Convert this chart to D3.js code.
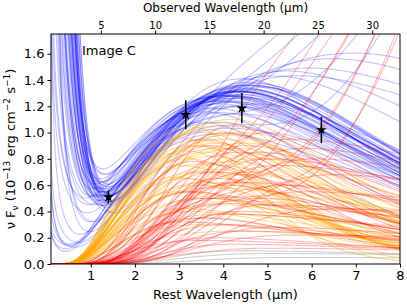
<!DOCTYPE html>
<html>
<head>
<meta charset="utf-8">
<script src="https://cdn.jsdelivr.net/npm/d3@7"></script>
<style>
  body { margin: 0; background: #fff; }
  svg { font-family: "DejaVu Sans", sans-serif; }
</style>
</head>
<body>
<div class="wrapper"></div>
<script>
// tick values
const restTicks = [1, 2, 3, 4, 5, 6, 7, 8];
const obsTicks = [5, 10, 15, 20, 25, 30];
const yTicks = [0, 0.2, 0.4, 0.6, 0.8, 1.0, 1.2, 1.4, 1.6];
const redshift = 3.07;

// measured photometry
const pointLam = [1.40, 3.15, 4.42, 6.22];
const pointFlux = [0.51, 1.135, 1.186, 1.02];
const pointErr = [0.05, 0.11, 0.115, 0.10];

// model fits, blue: [S, a, D, ld, sl, sr, R, lr, s]
const blueModels = [
  [0.75, 3.0, 1.30, 4.5, 0.65, 0.55], [0.68, 2.9, 1.22, 4.2, 0.68, 0.58],
  [0.80, 2.8, 1.35, 4.7, 0.64, 0.54], [0.70, 2.8, 1.28, 4.4, 0.70, 0.56],
  [0.62, 2.7, 1.25, 4.3, 0.66, 0.57], [0.72, 2.6, 1.32, 4.6, 0.63, 0.53],
  [0.65, 2.6, 1.20, 4.0, 0.72, 0.60], [0.58, 2.5, 1.30, 4.5, 0.65, 0.55],
  [0.66, 2.5, 1.36, 4.8, 0.62, 0.52], [0.60, 2.4, 1.24, 4.2, 0.68, 0.58],
  [0.55, 2.4, 1.18, 4.4, 0.70, 0.62], [0.62, 2.3, 1.30, 4.6, 0.64, 0.56],
  [0.58, 2.2, 1.26, 4.3, 0.66, 0.55], [0.52, 2.2, 1.33, 4.9, 0.63, 0.52],
  [0.56, 2.1, 1.21, 4.1, 0.69, 0.59], [0.55, 2.0, 1.28, 4.5, 0.66, 0.56],
  [0.50, 2.0, 1.15, 3.9, 0.72, 0.62], [0.60, 1.9, 1.35, 4.7, 0.62, 0.54],
  [0.50, 1.8, 1.24, 4.4, 0.67, 0.57], [0.46, 1.8, 1.30, 4.6, 0.65, 0.55],
  [0.52, 1.7, 1.20, 4.2, 0.70, 0.60], [0.47, 1.6, 1.27, 4.5, 0.66, 0.56],
  [0.43, 1.6, 1.32, 4.8, 0.64, 0.53], [0.48, 1.5, 1.22, 4.3, 0.68, 0.58],
  [0.44, 1.4, 1.26, 4.4, 0.66, 0.57], [0.40, 1.4, 1.18, 4.0, 0.71, 0.61],
  [0.42, 1.3, 1.30, 4.6, 0.65, 0.55], [0.42, 1.2, 1.24, 4.5, 0.67, 0.56],
  [0.38, 1.1, 1.20, 4.2, 0.69, 0.59], [0.38, 1.0, 1.28, 4.7, 0.65, 0.54],
  [0.34, 0.9, 1.22, 4.4, 0.68, 0.58], [0.36, 0.8, 1.16, 4.1, 0.70, 0.62],
  [0.30, 0.8, 1.25, 4.5, 0.66, 0.56], [0.25, 1.5, 1.30, 4.6, 0.64, 0.55],
  [0.20, 1.8, 1.22, 4.3, 0.68, 0.58], [0.15, 2.0, 1.28, 4.5, 0.66, 0.57],
  [0.12, 1.2, 1.18, 4.2, 0.70, 0.60], [0.10, 0.9, 1.24, 4.6, 0.68, 0.58],
  [0.08, 0.7, 1.12, 4.0, 0.74, 0.64], [0.06, 0.6, 1.05, 3.9, 0.76, 0.66],
  [0.07, 0.9, 1.20, 4.8, 0.72, 0.62], [0.05, 1.1, 0.98, 4.0, 0.78, 0.68],
  [0.09, 0.5, 1.10, 4.4, 0.75, 0.63], [0.04, 0.8, 1.02, 4.2, 0.80, 0.70],
  [0.65, 2.5, 1.42, 5.2, 0.66, 0.58], [0.55, 2.0, 1.45, 5.5, 0.68, 0.60],
  [0.45, 1.6, 1.10, 3.7, 0.68, 0.58], [0.60, 2.4, 1.05, 3.6, 0.70, 0.55],
  [0.50, 1.9, 1.38, 4.5, 0.60, 0.50], [0.58, 2.3, 1.26, 4.2, 0.78, 0.66],
  [0.63, 2.5, 1.60, 7.0, 0.72, 0.60], [0.50, 2.0, 1.55, 6.5, 0.70, 0.65],
  [0.55, 2.2, 1.48, 6.0, 0.72, 0.70], [0.45, 1.5, 1.40, 5.8, 0.70, 0.72],
  [0.62, 2.5, 1.10, 4.2, 0.64, 0.55, 2.5, 11, 0.40],
  [0.55, 2.0, 1.05, 4.0, 0.66, 0.55, 3.0, 12, 0.38],
  [0.60, 2.4, 1.15, 4.4, 0.62, 0.55, 1.8, 10, 0.45],
  [0.50, 1.8, 1.00, 4.1, 0.68, 0.55, 4.0, 13, 0.35],
  [0.45, 1.5, 1.08, 4.3, 0.66, 0.56, 2.2, 10.5, 0.42]
];

// orange: [D, ld, sl, sr]
const orangeModels = [
  [1.05, 3.8, 0.65, 0.50], [1.00, 3.5, 0.62, 0.55], [0.95, 4.0, 0.68, 0.45],
  [0.90, 3.3, 0.60, 0.60], [1.10, 4.2, 0.66, 0.50], [0.85, 3.6, 0.64, 0.40],
  [0.80, 3.2, 0.58, 0.55], [1.00, 4.5, 0.70, 0.48], [0.75, 3.0, 0.60, 0.65],
  [0.92, 3.9, 0.66, 0.35], [0.70, 3.4, 0.62, 0.50], [0.88, 4.4, 0.72, 0.42],
  [0.65, 3.1, 0.58, 0.60], [1.02, 3.7, 0.63, 0.58], [0.60, 3.5, 0.65, 0.45],
  [0.98, 4.1, 0.69, 0.52], [0.82, 3.8, 0.60, 0.38], [0.55, 3.0, 0.62, 0.70],
  [0.94, 3.4, 0.64, 0.62], [0.78, 4.3, 0.70, 0.45], [0.50, 3.6, 0.66, 0.55],
  [0.86, 3.2, 0.60, 0.47], [0.45, 4.0, 0.68, 0.60], [0.72, 3.9, 0.62, 0.40],
  [1.08, 4.0, 0.64, 0.44], [0.40, 3.3, 0.60, 0.65], [0.68, 4.6, 0.74, 0.50],
  [0.35, 3.7, 0.64, 0.52], [0.90, 3.6, 0.66, 0.30], [0.62, 4.2, 0.70, 0.36],
  [0.30, 3.5, 0.62, 0.75], [0.52, 3.9, 0.66, 0.33], [0.25, 4.2, 0.68, 0.80],
  [0.96, 3.0, 0.58, 0.50], [0.84, 2.8, 0.56, 0.55], [0.76, 3.5, 0.60, 0.85],
  [0.58, 3.8, 0.64, 0.90], [0.66, 2.9, 0.57, 0.70], [1.04, 3.3, 0.61, 0.42],
  [0.48, 4.4, 0.70, 0.75], [0.80, 4.8, 0.74, 0.55], [0.42, 3.1, 0.60, 0.80],
  [0.70, 3.7, 0.66, 0.62], [0.92, 4.6, 0.72, 0.40], [0.38, 4.0, 0.66, 0.95],
  [0.55, 3.4, 0.62, 0.42], [0.88, 3.9, 0.68, 0.55], [0.62, 3.6, 0.64, 0.70]
];

// red: [D, ld, sl, sr, R, lr, s]
const redModels = [
  [1.00, 4.0, 0.45, 0.55], [0.90, 4.5, 0.42, 0.60], [0.80, 5.0, 0.45, 0.70],
  [1.05, 4.2, 0.40, 0.50], [0.70, 3.8, 0.48, 0.65], [0.95, 5.5, 0.44, 0.75],
  [0.60, 4.0, 0.42, 0.60], [0.85, 4.8, 0.40, 0.55], [0.50, 3.6, 0.46, 0.70],
  [0.75, 5.2, 0.43, 0.80], [0.40, 4.4, 0.45, 0.65], [0.65, 3.9, 0.40, 0.50],
  [0.30, 4.0, 0.48, 0.70], [0.55, 5.8, 0.42, 0.80], [0.90, 3.7, 0.44, 0.45],
  [0.45, 5.0, 0.40, 0.90], [0.35, 3.5, 0.50, 0.60], [0.70, 4.6, 0.46, 0.40],
  [0.25, 4.5, 0.44, 0.80], [0.80, 6.0, 0.40, 0.70], [0.20, 3.8, 0.46, 0.75],
  [0.60, 5.5, 0.45, 0.50], [0.15, 4.2, 0.42, 0.90], [1.00, 5.0, 0.38, 0.45],
  [0.50, 4.8, 0.50, 0.60], [0.42, 6.5, 0.45, 0.80], [0.28, 5.2, 0.42, 0.70],
  [0.85, 4.3, 0.47, 0.62], [0.12, 5.0, 0.45, 1.00], [0.38, 4.1, 0.40, 0.85],
  [0.95, 3.5, 0.42, 0.55], [0.78, 3.3, 0.45, 0.65], [0.55, 3.2, 0.48, 0.75],
  [0.32, 3.0, 0.50, 0.90], [0.68, 6.5, 0.40, 0.60], [0.22, 5.5, 0.44, 1.10],
  [0.88, 5.8, 0.42, 0.65], [0.46, 4.0, 0.44, 1.00], [0.18, 3.4, 0.50, 1.00],
  [0.62, 4.4, 0.43, 0.85],
  [0.70, 4.5, 0.45, 0.60, 3.0, 11, 0.35], [0.60, 4.2, 0.42, 0.55, 4.0, 12, 0.33],
  [0.80, 4.8, 0.44, 0.60, 2.5, 10, 0.36], [0.50, 4.0, 0.46, 0.60, 5.0, 13, 0.32],
  [0.65, 5.0, 0.42, 0.65, 3.5, 11.5, 0.30], [0.75, 4.4, 0.44, 0.55, 2.2, 9.5, 0.34],
  [0.55, 4.6, 0.45, 0.60, 6.0, 14, 0.33], [0.45, 3.8, 0.46, 0.60, 2.8, 10.5, 0.38],
  [0.85, 5.2, 0.40, 0.60, 1.8, 9, 0.40]
];

// grey: [D, ld, sl, sr]
const greyModels = [
  [0.08, 5.0, 0.45, 1.0], [0.05, 5.5, 0.42, 1.1], [0.10, 4.5, 0.50, 0.8]
];

const width = 407, height = 305;
const margin = {top: 34, right: 7, bottom: 41, left: 51};

const x = d3.scaleLinear().domain([0.1, 8]).range([margin.left, width - margin.right]);
const y = d3.scaleLinear().domain([0, 1.75]).range([height - margin.bottom, margin.top]);
const xObs = d3.scaleLinear().domain([0.1 * (1 + redshift), 8 * (1 + redshift)]).range(x.range());

const svg = d3.select(".wrapper").append("svg")
    .attr("width", width)
    .attr("height", height);

svg.append("clipPath").attr("id", "plotclip")
  .append("rect")
    .attr("x", margin.left).attr("y", margin.top)
    .attr("width", width - margin.left - margin.right)
    .attr("height", height - margin.top - margin.bottom);

function hump(l, D, ld, sl, sr) {
  const u = Math.log(l / ld);
  const s = u < 0 ? sl : sr;
  return D * Math.exp(-u * u / (2 * s * s));
}

const lams = d3.range(0.1, 8.02, 0.02);

function blueSed(p) {
  const [S, a, D, ld, sl, sr, R = 0, lr = 10, s = 0.4] = p;
  return lams.map(l => [l, S * Math.pow(l, -a) + hump(l, D, ld, sl, sr) + hump(l, R, lr, s, s)]);
}
function dustSed(p) {
  const [D, ld, sl, sr, R = 0, lr = 10, s = 0.4] = p;
  return lams.map(l => [l, hump(l, D, ld, sl, sr) + hump(l, R, lr, s, s)]);
}

const line = d3.line()
    .x(d => x(d[0]))
    .y(d => y(Math.min(d[1], 3)));

const plot = svg.append("g").attr("clip-path", "url(#plotclip)");

function drawFamily(models, sed, color, cls) {
  plot.selectAll("path." + cls)
      .data(models)
    .enter().append("path")
      .attr("class", cls)
      .attr("d", d => line(sed(d)))
      .attr("fill", "none")
      .attr("stroke", color)
      .attr("stroke-width", 1.1);
}

drawFamily(greyModels, dustSed, "rgba(120,120,120,0.35)", "grey");
drawFamily(blueModels, blueSed, "rgba(0,0,255,0.24)", "blue");
drawFamily(orangeModels, dustSed, "rgba(255,165,0,0.38)", "orange");
drawFamily(redModels, dustSed, "rgba(255,0,0,0.28)", "red");

// error bars + stars
const pts = pointLam.map((l, i) => ({l: l, f: pointFlux[i], e: pointErr[i]}));
plot.selectAll("line.err")
    .data(pts)
  .enter().append("line")
    .attr("class", "err")
    .attr("x1", d => x(d.l)).attr("x2", d => x(d.l))
    .attr("y1", d => y(d.f - d.e)).attr("y2", d => y(d.f + d.e))
    .attr("stroke", "#000")
    .attr("stroke-width", 1.5);
plot.selectAll("path.star")
    .data(pts)
  .enter().append("path")
    .attr("class", "star")
    .attr("transform", d => `translate(${x(d.l)},${y(d.f)})`)
    .attr("d", d3.symbol().type(d3.symbolStar).size(36))
    .attr("fill", "#000");

// axes
const xAxis = svg.append("g")
    .attr("transform", `translate(0,${height - margin.bottom})`)
    .call(d3.axisBottom(x).tickValues(restTicks).tickFormat(d3.format("d")).tickSizeOuter(0).tickSize(3.5).tickPadding(3));
const yAxis = svg.append("g")
    .attr("transform", `translate(${margin.left},0)`)
    .call(d3.axisLeft(y).tickValues(yTicks).tickFormat(d3.format(".1f")).tickSizeOuter(0).tickSize(3.5).tickPadding(3));
const topAxis = svg.append("g")
    .attr("transform", `translate(0,${margin.top})`)
    .call(d3.axisTop(xObs).tickValues(obsTicks).tickFormat(d3.format("d")).tickSizeOuter(0).tickSize(3.5).tickPadding(2));

[xAxis, yAxis].forEach(g => {
  g.selectAll("text").attr("font-size", 13).attr("fill", "#000").attr("font-family", "DejaVu Sans");
  g.selectAll("line").attr("stroke", "#000");
  g.select(".domain").remove();
});
topAxis.selectAll("text").attr("font-size", 10).attr("fill", "#000").attr("font-family", "DejaVu Sans");
topAxis.selectAll("line").attr("stroke", "#000");
topAxis.select(".domain").remove();

svg.append("rect")
    .attr("x", margin.left).attr("y", margin.top)
    .attr("width", width - margin.left - margin.right)
    .attr("height", height - margin.top - margin.bottom)
    .attr("fill", "none")
    .attr("stroke", "#000")
    .attr("stroke-width", 1);

svg.append("text")
    .attr("x", 82).attr("y", 55)
    .attr("font-size", 13)
    .text("Image C");

svg.append("text")
    .attr("x", (margin.left + width - margin.right) / 2)
    .attr("y", 299)
    .attr("text-anchor", "middle")
    .attr("font-size", 13)
    .text("Rest Wavelength (μm)");

svg.append("text")
    .attr("x", (margin.left + width - margin.right) / 2)
    .attr("y", 12)
    .attr("text-anchor", "middle")
    .attr("font-size", 12)
    .text("Observed Wavelength (μm)");

const ylab = svg.append("text")
    .attr("transform", `translate(15,${(margin.top + height - margin.bottom) / 2}) rotate(-90)`)
    .attr("text-anchor", "middle")
    .attr("font-size", 13);
ylab.append("tspan").text("ν F");
ylab.append("tspan").attr("font-size", 9).attr("dy", 3).text("ν");
ylab.append("tspan").attr("dy", -3).text(" (10");
ylab.append("tspan").attr("font-size", 9).attr("dy", -5).text("−13");
ylab.append("tspan").attr("dy", 5).text(" erg cm");
ylab.append("tspan").attr("font-size", 9).attr("dy", -5).text("−2");
ylab.append("tspan").attr("dy", 5).text(" s");
ylab.append("tspan").attr("font-size", 9).attr("dy", -5).text("−1");
ylab.append("tspan").attr("dy", 5).text(")");
</script>
</body>
</html>
